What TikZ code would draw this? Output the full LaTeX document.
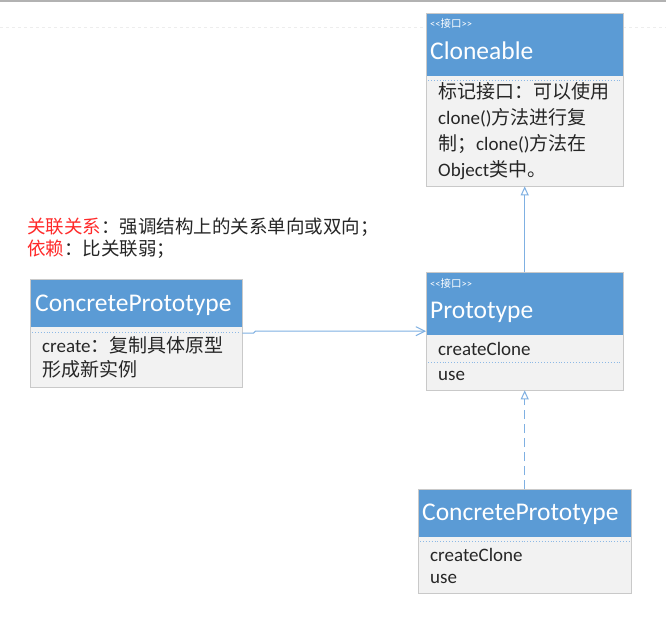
\documentclass[tikz,border=0pt]{standalone}
\usepackage{fontspec}
\setmainfont{Carlito}
\newfontfamily\cjk{Noto Sans CJK SC}
\usetikzlibrary{arrows.meta}
\definecolor{hdr}{HTML}{5B9BD5}
\definecolor{bodyc}{HTML}{F2F2F2}
\definecolor{brd}{HTML}{C9C9C9}
\definecolor{sepc}{HTML}{8DB9E6}
\definecolor{lnk}{HTML}{7FB0E2}
\definecolor{redtxt}{HTML}{FF2A2A}
\definecolor{txt}{HTML}{262626}
\newcommand{\stereoint}{<\kern0pt<{\cjk 接口}>\kern0pt>}
\begin{document}
\begin{tikzpicture}[x=1pt,y=-1pt,
  bodybox/.style={fill=bodyc, inner sep=0pt, anchor=north west},
  hdrbox/.style={fill=hdr, inner sep=0pt, anchor=north west},
  outline/.style={draw=brd, line width=0.8pt},
  stereo/.style={anchor=base west, inner sep=0pt, text=white, font=\fontsize{10.5}{12}\selectfont},
  titletext/.style={anchor=base west, inner sep=0pt, text=white, font=\fontsize{25.5}{30}\selectfont},
  member/.style={anchor=base west, inner sep=0pt, text=txt, font=\fontsize{19}{26}\selectfont},
  notetext/.style={anchor=base west, inner sep=0pt, text=txt, font=\cjk\fontsize{18.5}{22}\selectfont},
  dotsep/.style={draw=sepc, dotted, line width=0.9pt},
  realize/.style={draw=lnk, line width=1pt, -{Triangle[open, length=9pt, width=8pt, fill=white]}},
  assoc/.style={draw=lnk, line width=1pt, -{Straight Barb[length=9pt, width=9pt]}},
]
\fill[white] (0,0) rectangle (666,618);
\useasboundingbox (0,0) rectangle (666,618);
\draw[black!30, line width=1.5pt] (0,1) -- (666,1);
\draw[black!7, dashed] (0,27) -- (426,27);
\draw[black!7, dashed] (623,27) -- (666,27);

% Cloneable
\node[bodybox, minimum width=197pt, minimum height=173pt] (cl) at (426,13) {};
\node[hdrbox, minimum width=197pt, minimum height=63pt] (clh) at (426,13) {};
\draw[outline] (cl.north west) rectangle (cl.south east);
\draw[dotsep] ([xshift=2pt,yshift=-4pt]clh.south west) -- ([xshift=-2pt,yshift=-4pt]clh.south east);
\node[stereo] (cls) at (430,28) {\stereoint};
\node[titletext] (clt) at (430,59.5) {Cloneable};
\node[member] (clm1) at (438,98) {{\cjk 标记接口：可以使用}};
\node[member] (clm2) at (438,124) {clone(){\cjk 方法进行复}};
\node[member] (clm3) at (438,150) {{\cjk 制；}clone(){\cjk 方法在}};
\node[member] (clm4) at (438,176) {Object{\cjk 类中。}};

% Prototype
\node[bodybox, minimum width=197pt, minimum height=118pt] (pr) at (426,272) {};
\node[hdrbox, minimum width=197pt, minimum height=63pt] (prh) at (426,272) {};
\draw[outline] (pr.north west) rectangle (pr.south east);
\node[stereo] (prs) at (430,287) {\stereoint};
\node[titletext] (prt) at (430,318) {Prototype};
\node[member] (prm1) at (438,355) {createClone};
\draw[dotsep] (428,362) -- (621,362);
\node[member] (prm2) at (438,380) {use};

% ConcretePrototype (left)
\node[bodybox, minimum width=212pt, minimum height=108pt] (cpl) at (30,279) {};
\node[hdrbox, minimum width=212pt, minimum height=48pt] (cplh) at (30,279) {};
\draw[outline] (cpl.north west) rectangle (cpl.south east);
\draw[dotsep] ([xshift=2pt,yshift=-5pt]cplh.south west) -- ([xshift=-2pt,yshift=-5pt]cplh.south east);
\node[titletext] (cplt) at (35,311) {ConcretePrototype};
\node[member] (cplm1) at (42,352) {create{\cjk ：复制具体原型}};
\node[member] (cplm2) at (42,376) {{\cjk 形成新实例}};

% ConcretePrototype (bottom)
\node[bodybox, minimum width=213pt, minimum height=104pt] (cpb) at (418,489) {};
\node[hdrbox, minimum width=213pt, minimum height=48pt] (cpbh) at (418,489) {};
\draw[outline] (cpb.north west) rectangle (cpb.south east);
\draw[dotsep] ([xshift=2pt,yshift=-4pt]cpbh.south west) -- ([xshift=-2pt,yshift=-4pt]cpbh.south east);
\node[titletext] (cpbt) at (422,520) {ConcretePrototype};
\node[member] (cpbm1) at (430,561) {createClone};
\node[member] (cpbm2) at (430,583) {use};

% notes
\node[notetext] (n1) at (27,233) {\textcolor{redtxt}{关联关系}：强调结构上的关系单向或双向；};
\node[notetext] (n2) at (27,255) {\textcolor{redtxt}{依赖}：比关联弱；};

% connectors
\draw[realize] (pr.north) -- (cl.south);
\draw[realize, dash pattern=on 9pt off 5pt] (cpb.north) -- (pr.south);
\draw[assoc] (cpl.east) -- ++(11,0) -- ++(2,-2) -- (pr.west);
\end{tikzpicture}
\end{document}
